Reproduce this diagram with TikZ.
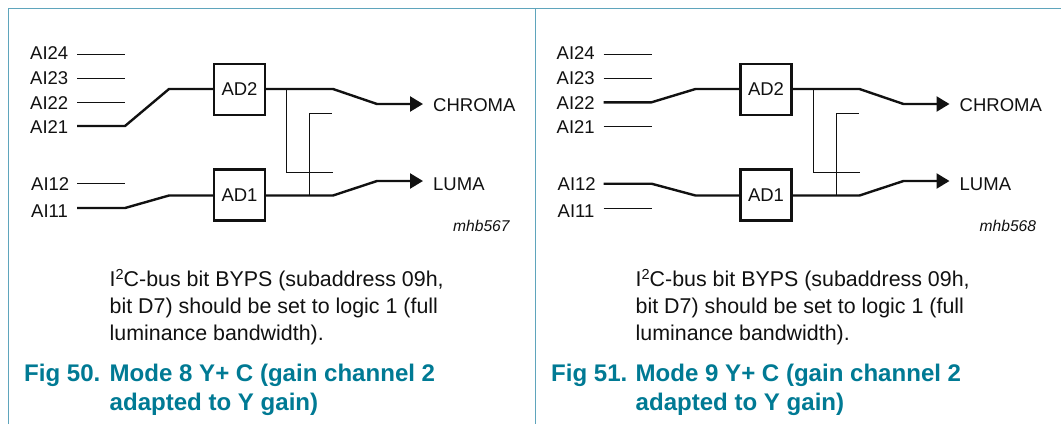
\documentclass[tikz,border=0pt]{standalone}
\usepackage{fontspec}
\setmainfont{Liberation Sans}
\usetikzlibrary{arrows.meta}
\definecolor{frame}{HTML}{5FA5BC}
\definecolor{cap}{HTML}{007A94}
\definecolor{ink}{HTML}{111111}
\tikzset{x=1pt,y=-1pt,
 lbl/.style={font=\fontsize{18.5}{20}\selectfont,text=ink,inner sep=0pt,anchor=base west},
 thin wire/.style={draw=ink,line width=1pt},
 thick wire/.style={draw=ink,line width=2.4pt},
 box/.style={draw=ink,line width=2.2pt,minimum width=51pt,minimum height=51pt,inner sep=0pt,font=\fontsize{18.5}{20}\selectfont,text=ink},
 code/.style={font=\fontsize{15.6}{17}\selectfont\itshape,text=ink,inner sep=0pt,anchor=base west},
 arr/.style={-{Triangle[length=13pt,width=15pt]}},
 body/.style={font=\fontsize{21.4}{26.9}\selectfont,text=ink,inner sep=0pt,anchor=base west,align=left},
 head/.style={font=\fontsize{24.05}{28.6}\selectfont\bfseries,text=cap,inner sep=0pt,anchor=base west,align=left}
}
% #1 x shift, #2 suffix, #3 code, #4 fig, #5 mode, #6 thin, #7 thick
\newcommand{\panel}[7]{%
\begin{scope}[shift={(#1,0)}]
 \node[lbl] (t#2a) at (30,59.3) {AI24};
 \node[lbl] (t#2b) at (30,84) {AI23};
 \node[lbl] (t#2c) at (30,109) {AI22};
 \node[lbl] (t#2d) at (30,133) {AI21};
 \node[lbl] (t#2e) at (31,190) {AI12};
 \node[lbl] (t#2f) at (31,217) {AI11};
 \node[box] (ad2#2) at (239.5,89.5) {AD2};
 \node[box] (ad1#2) at (239.5,195) {AD1};
 \node[lbl] (chroma#2) at (433,111) {CHROMA};
 \node[lbl] (luma#2) at (433,190) {LUMA};
 \node[code] at (453,231) {mhb#3};
 \node[body] at (\textx,340) {I\raisebox{6.8pt}{\fontsize{14.5}{14.5}\selectfont 2}C-bus bit BYPS (subaddress 09h,\\bit D7) should be set to logic 1 (full\\luminance bandwidth).};
 \node[head] at (\figx,381.7) {Fig #4.};
 \node[head] at (\textx,410.3) {Mode #5 Y+ C (gain channel 2\\adapted to Y gain)};
 \coordinate (a#2) at (77,54.5);\coordinate (A#2) at (125,54.5);
 \coordinate (b#2) at (77,78.5);\coordinate (B#2) at (125,78.5);
 \coordinate (c#2) at (77,102.3);\coordinate (C#2) at (125,102.3);
 \coordinate (d#2) at (77,126);\coordinate (D#2) at (125,126);
 \coordinate (e#2) at (77,183.7);\coordinate (E#2) at (125,183.7);
 \coordinate (f#2) at (77,208);\coordinate (F#2) at (125,208);
 \coordinate (i2#2) at (169,89);\coordinate (i1#2) at (169,195.5);
 \foreach \p/\q in {#6} {\draw[thin wire] (\p#2) -- (\q#2);}
 \foreach \p/\q/\r in {#7} {\draw[thick wire,line join=round] (\p#2) -- (\q#2) -- (i\r#2) -- (i\r#2 -| ad\r#2.west);}
 \coordinate (o2#2) at (333,89);\coordinate (m2#2) at (377,104);\coordinate (x2#2) at (423,104);
 \coordinate (o1#2) at (333,195.5);\coordinate (m1#2) at (377,181);\coordinate (x1#2) at (423,181);
 \draw[thick wire,line join=round,arr] (o2#2 -| ad2#2.east) -- (o2#2) -- (m2#2) -- (x2#2);
 \draw[thick wire,line join=round,arr] (o1#2 -| ad1#2.east) -- (o1#2) -- (m1#2) -- (x1#2);
 \coordinate (p#2) at (286.5,89);\coordinate (q#2) at (286.5,172);\coordinate (r#2) at (333,172);
 \coordinate (s#2) at (309.5,195.5);\coordinate (u#2) at (309.5,113.5);\coordinate (v#2) at (332,113.5);
 \draw[thin wire] (p#2) -- (q#2) -- (r#2);
 \draw[thin wire] (s#2) -- (u#2) -- (v#2);
\end{scope}}
\begin{document}
\begin{tikzpicture}
\useasboundingbox (0,0) rectangle (1061,424);
\fill[white] (0,0) rectangle (1061,424);
\draw[frame,line width=1pt] (8.5,424) -- (8.5,8.5) -- (1061,8.5);
\draw[frame,line width=1pt] (535,8.5) -- (535,424);
\def\textx{109.5}\def\figx{24}
\panel{0}{L}{567}{50}{8}{a/A,b/B,c/C,e/E}{d/D/2,f/F/1}
\def\textx{109}\def\figx{24.5}
\panel{526.5}{R}{568}{51}{9}{a/A,b/B,d/D,f/F}{c/C/2,e/E/1}
\end{tikzpicture}
\end{document}
